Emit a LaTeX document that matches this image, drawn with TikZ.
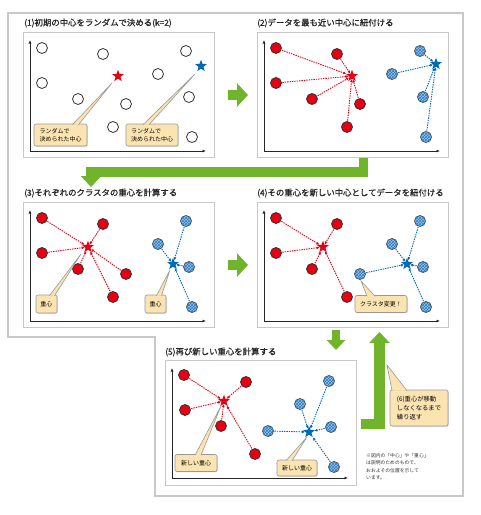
\documentclass[tikz,border=0pt]{standalone}
\usepackage{fontspec}
\newfontfamily\jp{Noto Sans CJK JP}
\newfontfamily\jpb[FakeBold=0.8]{Noto Sans CJK JP}
\usepackage{xcolor}
\usepackage{tikz}
\usetikzlibrary{positioning, arrows.meta, shapes.geometric, patterns, shadows}

\definecolor{ptred}{RGB}{230,0,18}
\definecolor{ptblue}{RGB}{0,104,183}
\definecolor{hatchblue}{RGB}{160,192,232}
\definecolor{kgreen}{RGB}{112,180,44}
\definecolor{memotan}{RGB}{251,228,178}
\definecolor{framegray}{RGB}{200,200,200}

\begin{document}
\begin{tikzpicture}[
    x=1pt, y=-1pt,
    panel/.style={rectangle, draw=framegray, line width=1pt, fill=white, minimum width=191pt, minimum height=125pt, inner sep=0pt, anchor=north west},
    title/.style={anchor=west, inner sep=0pt, text=black!85, font=\jpb\fontsize{8.4}{10}\selectfont},
    axis/.style={-{Latex[length=3.5pt,width=3pt]}, line width=1pt, black!85},
    datum/.style={circle, draw=black!80, line width=0.8pt, fill=white, minimum size=11pt, inner sep=0pt},
    reddot/.style={datum, fill=ptred},
    bluedot/.style={datum, draw=black!70, fill=hatchblue, postaction={pattern=crosshatch, pattern color=ptblue!85}},
    redstar/.style={star, star points=5, star point ratio=2.4, fill=ptred, minimum size=12.5pt, inner sep=0pt},
    bluestar/.style={redstar, fill=ptblue},
    redlink/.style={ptred, line width=0.9pt, dash pattern=on 1.4pt off 1pt, -{Latex[length=3pt,width=3pt]}, shorten <=0.5pt},
    bluelink/.style={redlink, ptblue},
    memo/.style={rectangle, rounded corners=2pt, draw=black!40, fill=memotan, line width=0.6pt, align=left, inner sep=2pt, font=\jp\fontsize{6}{8}\selectfont, drop shadow={shadow xshift=0.7pt, shadow yshift=-0.7pt, fill=black!40, opacity=0.5}},
    memotip/.style={draw=black!40, fill=memotan, line width=0.6pt},
    gstep/.style={kgreen, line width=10pt, -{Triangle[length=11pt,width=23pt]}},
    gturn/.style={kgreen, line width=9.5pt, -{Triangle[length=11pt,width=20pt]}}
]
\useasboundingbox (0,0) rectangle (481,515);

% outer frame
\draw[framegray, line width=1.3pt] (8,13) -- (463,13) -- (463,496) -- (155,496) -- (155,337) -- (8,337) -- cycle;

% (1) random centres
\node[title] (t1) at (24,23) {(1)初期の中心をランダムで決める(k=2)};
\begin{scope}[shift={(23,32)}]
\node[panel] (box1) at (0,0) {};
\draw[axis] (7,119) -- (7,8);
\draw[axis] (7,119) -- (183,119);
\node[datum] (a1) at (19,16) {};
\node[datum] (a2) at (80,22) {};
\node[datum] (a3) at (163,19) {};
\node[datum] (a4) at (19,51) {};
\node[datum] (a5) at (135,42) {};
\node[datum] (a6) at (55,67) {};
\node[datum] (a7) at (103,72) {};
\node[datum] (a8) at (166,65) {};
\node[datum] (a9) at (90,95) {};
\node[datum] (a10) at (169,105) {};
\node[redstar] (ar) at (95,44) {};
\node[bluestar] (ab) at (178,34) {};
\coordinate (ap1) at (89,51);
\coordinate (ap2) at (172,42);
\node[memo, minimum width=53pt, minimum height=22pt] (am1) at (37.5,103) {ランダムで\\決められた中心};
\node[memo, minimum width=52pt, minimum height=22pt] (am2) at (129,103) {ランダムで\\決められた中心};
\draw[memotip] ([xshift=12pt,yshift=-1pt]am1.north) -- (ap1) -- ([xshift=18pt,yshift=-1pt]am1.north);
\draw[memotip] ([xshift=-9pt,yshift=-1pt]am2.north) -- (ap2) -- ([xshift=-3pt,yshift=-1pt]am2.north);
\end{scope}

% (2) assign to nearest centre
\node[title] (t2) at (257,23) {(2)データを最も近い中心に紐付ける};
\begin{scope}[shift={(257,32)}]
\node[panel] (box2) at (0,0) {};
\draw[axis] (7,119) -- (7,8);
\draw[axis] (7,119) -- (183,119);
\node[reddot] (b1) at (19,16) {};
\node[reddot] (b2) at (80,22) {};
\node[bluedot] (b3) at (163,19) {};
\node[reddot] (b4) at (19,51) {};
\node[bluedot] (b5) at (135,42) {};
\node[reddot] (b6) at (55,67) {};
\node[reddot] (b7) at (103,72) {};
\node[bluedot] (b8) at (166,65) {};
\node[reddot] (b9) at (90,95) {};
\node[bluedot] (b10) at (169,105) {};
\node[redstar] (br) at (95,44) {};
\node[bluestar] (bb) at (179,32) {};
\draw[redlink] (b1) -- (br);
\draw[redlink] (b2) -- (br);
\draw[redlink] (b4) -- (br);
\draw[redlink] (b6) -- (br);
\draw[redlink] (b7) -- (br);
\draw[redlink] (b9) -- (br);
\draw[bluelink] (b3) -- (bb);
\draw[bluelink] (b5) -- (bb);
\draw[bluelink] (b8) -- (bb);
\draw[bluelink] (b10) -- (bb);
\end{scope}

% (3) centroids
\node[title] (t3) at (24,193) {(3)それぞれのクラスタの重心を計算する};
\begin{scope}[shift={(23,202)}]
\node[panel] (box3) at (0,0) {};
\draw[axis] (7,119) -- (7,8);
\draw[axis] (7,119) -- (183,119);
\node[reddot] (c1) at (19,16) {};
\node[reddot] (c2) at (80,22) {};
\node[bluedot] (c3) at (163,19) {};
\node[reddot] (c4) at (19,51) {};
\node[bluedot] (c5) at (135,42) {};
\node[reddot] (c6) at (55,67) {};
\node[reddot] (c7) at (103,72) {};
\node[bluedot] (c8) at (166,65) {};
\node[reddot] (c9) at (90,95) {};
\node[bluedot] (c10) at (169,105) {};
\node[redstar] (cr) at (65,45) {};
\node[bluestar] (cb) at (150,62) {};
\draw[redlink] (c1) -- (cr);
\draw[redlink] (c2) -- (cr);
\draw[redlink] (c4) -- (cr);
\draw[redlink] (c6) -- (cr);
\draw[redlink] (c7) -- (cr);
\draw[redlink] (c9) -- (cr);
\draw[bluelink] (c3) -- (cb);
\draw[bluelink] (c5) -- (cb);
\draw[bluelink] (c8) -- (cb);
\draw[bluelink] (c10) -- (cb);
\coordinate (cp1) at (58,52);
\coordinate (cp2) at (147,68);
\node[memo, minimum width=21pt, minimum height=18pt] (cm1) at (23.5,102) {重心};
\node[memo, minimum width=21pt, minimum height=18pt] (cm2) at (132.5,102) {重心};
\draw[memotip] ([xshift=3pt,yshift=-1pt]cm1.north) -- (cp1) -- ([xshift=8pt,yshift=-1pt]cm1.north);
\draw[memotip] ([xshift=1pt,yshift=-1pt]cm2.north) -- (cp2) -- ([xshift=6pt,yshift=-1pt]cm2.north);
\end{scope}

% (4) reassign with new centres
\node[title] (t4) at (257,193) {(4)その重心を新しい中心としてデータを紐付ける};
\begin{scope}[shift={(257,202)}]
\node[panel] (box4) at (0,0) {};
\draw[axis] (7,119) -- (7,8);
\draw[axis] (7,119) -- (183,119);
\node[reddot] (d1) at (19,16) {};
\node[reddot] (d2) at (80,22) {};
\node[bluedot] (d3) at (163,19) {};
\node[reddot] (d4) at (19,51) {};
\node[bluedot] (d5) at (135,42) {};
\node[reddot] (d6) at (55,67) {};
\node[bluedot] (d7) at (103,72) {};
\node[bluedot] (d8) at (166,65) {};
\node[reddot] (d9) at (90,95) {};
\node[bluedot] (d10) at (169,105) {};
\node[redstar] (dr) at (66,45) {};
\node[bluestar] (db) at (150,62) {};
\draw[redlink] (d1) -- (dr);
\draw[redlink] (d2) -- (dr);
\draw[redlink] (d4) -- (dr);
\draw[redlink] (d6) -- (dr);
\draw[redlink] (d9) -- (dr);
\draw[bluelink] (d3) -- (db);
\draw[bluelink] (d5) -- (db);
\draw[bluelink] (d7) -- (db);
\draw[bluelink] (d8) -- (db);
\draw[bluelink] (d10) -- (db);
\coordinate (dp1) at (104,79);
\node[memo, minimum width=52pt, minimum height=17pt] (dm1) at (124,102) {クラスタ変更！};
\draw[memotip] ([xshift=-14pt,yshift=-1pt]dm1.north) -- (dp1) -- ([xshift=-6pt,yshift=-1pt]dm1.north);
\end{scope}

% (5) new centroids
\node[title] (t5) at (165,352) {(5)再び新しい重心を計算する};
\begin{scope}[shift={(165,360)}]
\node[panel] (box5) at (0,0) {};
\draw[axis] (7,118) -- (7,8);
\draw[axis] (7,118) -- (183,118);
\node[reddot] (e1) at (19,15) {};
\node[reddot] (e2) at (81,22) {};
\node[bluedot] (e3) at (164,21) {};
\node[reddot] (e4) at (20,50) {};
\node[bluedot] (e5) at (135,44) {};
\node[reddot] (e6) at (56,66) {};
\node[bluedot] (e7) at (103,71) {};
\node[bluedot] (e8) at (166,67) {};
\node[reddot] (e9) at (90,94) {};
\node[bluedot] (e10) at (169,107) {};
\node[redstar] (er) at (59,41) {};
\node[bluestar] (eb) at (144,72) {};
\draw[redlink] (e1) -- (er);
\draw[redlink] (e2) -- (er);
\draw[redlink] (e4) -- (er);
\draw[redlink] (e6) -- (er);
\draw[redlink] (e9) -- (er);
\draw[bluelink] (e3) -- (eb);
\draw[bluelink] (e5) -- (eb);
\draw[bluelink] (e7) -- (eb);
\draw[bluelink] (e8) -- (eb);
\draw[bluelink] (e10) -- (eb);
\coordinate (ep1) at (56,46);
\coordinate (ep2) at (142,77);
\node[memo, minimum width=42pt, minimum height=17pt] (em1) at (31,103) {新しい重心};
\node[memo, minimum width=40pt, minimum height=16pt] (em2) at (132,108) {新しい重心};
\draw[memotip] ([xshift=-1pt,yshift=-1pt]em1.north) -- (ep1) -- ([xshift=5pt,yshift=-1pt]em1.north);
\draw[memotip] ([xshift=-11pt,yshift=-1pt]em2.north) -- (ep2) -- ([xshift=-5pt,yshift=-1pt]em2.north);
\end{scope}

% green flow arrows
\coordinate (loopB) at (91,187);
\coordinate (downA) at (336,330);
\coordinate (downB) at (336,350);
\coordinate (backA) at (361,424);
\draw[gstep] ([xshift=13pt]box1.east) -- ([xshift=-9pt]box2.west);
\draw[gturn, line join=miter] ([xshift=10.5pt]box2.south) -- ++(0,14) -| (loopB);
\draw[gstep] ([xshift=13pt]box3.east) -- ([xshift=-9pt]box4.west);
\draw[gturn, line width=8pt, -{Triangle[length=10pt,width=18pt]}] (downA) -- (downB);
\draw[gturn, line width=10.5pt, line join=miter] (backA) -| ([xshift=26.5pt,yshift=-4pt]box4.south);

% repeat note
\coordinate (fp1) at (387,365);
\node[memo, minimum width=58pt, minimum height=36pt, font=\jp\fontsize{6.3}{9}\selectfont] (fm1) at (419,408) {(6)重心が移動\\しなくなるまで\\繰り返す};
\draw[memotip] ([xshift=-27pt,yshift=-1pt]fm1.north) -- (fp1) -- ([xshift=-12pt,yshift=-1pt]fm1.north);

\node[anchor=north west, inner sep=0pt, align=left, text=black!80, font=\jp\fontsize{4.8}{7.5}\selectfont] (note) at (366,453) {※図内の「中心」や「重心」\\は説明のためのもので、\\おおよその位置を示して\\います。};

\end{tikzpicture}
\end{document}
